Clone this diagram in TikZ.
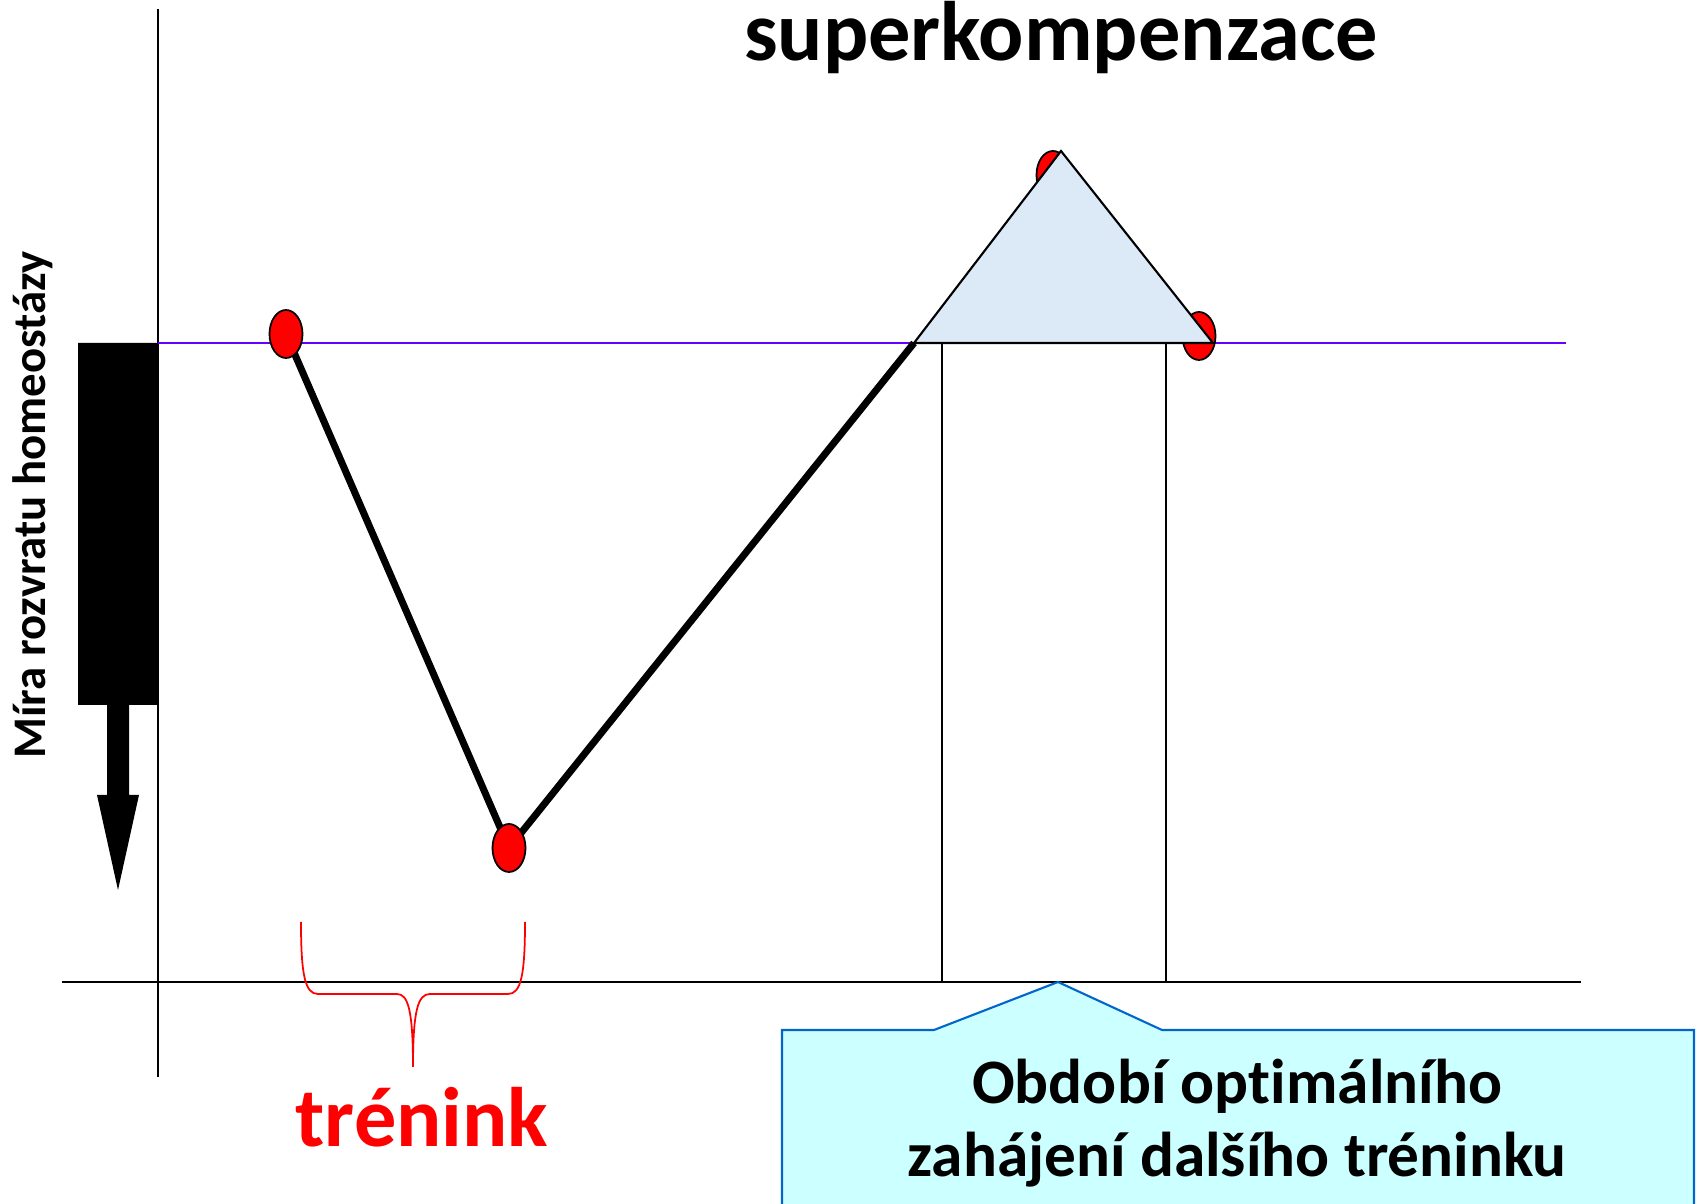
\documentclass[tikz,border=0pt]{standalone}
\usepackage{fontspec}
\setmainfont{Carlito}[Ligatures=NoCommon]
\usepackage{tikz}
\usetikzlibrary{arrows.meta, positioning, calc, shapes.geometric}

\definecolor{baseviolet}{RGB}{102,0,255}
\definecolor{peakfill}{RGB}{220,233,246}
\definecolor{calloutfill}{RGB}{204,255,255}
\definecolor{calloutline}{RGB}{0,102,204}

\begin{document}
\begin{tikzpicture}[
  x=0.01cm, y=-0.01cm,
  dot/.style={ellipse, draw, fill=red, minimum width=0.33cm, minimum height=0.48cm, inner sep=0pt, line width=0.5pt},
  axis/.style={line width=0.6pt},
  load/.style={line width=2pt},
  bigtext/.style={font=\fontsize{24}{29}\selectfont\bfseries, anchor=base},
  every node/.style={font=\bfseries}
]
  \useasboundingbox (0,0) rectangle (1696,1204);

  % axes
  \coordinate (ytop) at (158,9);
  \coordinate (ybot) at (158,1077);
  \coordinate (xl) at (62,982);
  \coordinate (xr) at (1581,982);
  \draw[axis] (ytop) -- (ybot);
  \draw[axis] (xl) -- (xr);

  % homeostasis level
  \coordinate (bl) at (158,343);
  \coordinate (br) at (1566,343);
  \draw[baseviolet, line width=0.5pt] (bl) -- (br);

  % disturbance bar with arrow
  \fill (78,343) -- (158,343) -- (158,705) -- (129,705) -- (129,795) -- (139,795)
    -- (118,890) -- (97,795) -- (107,795) -- (107,705) -- (78,705) -- cycle;
  \node[rotate=90, anchor=base, font=\fontsize{13.3}{16}\selectfont\bfseries] (ylab) at (45,505) {Míra rozvratu homeostázy};

  % curve
  \coordinate (p0) at (286,334);
  \coordinate (p1) at (509,848);
  \coordinate (tl) at (914,343);
  \coordinate (tp) at (1061,151);
  \coordinate (tr) at (1213,343);
  \draw[load] (p0) -- (p1) -- (tl);
  \node[dot] (d0) at (p0) {};
  \node[dot] (d1) at (p1) {};
  \node[dot] (d2) at (1053,175) {};
  \node[dot] (d3) at (1199,336) {};
  \filldraw[fill=peakfill, line width=0.6pt] (tl) -- (tp) -- (tr) -- cycle;

  % optimal period
  \coordinate (ma) at (942,343);
  \coordinate (mb) at (1166,343);
  \draw[axis] (ma) -- (ma |- xl);
  \draw[axis] (mb) -- (mb |- xl);

  \node[bigtext] (title) at (1061,61) {superkompenzace};

  % brace
  \draw[red, line width=0.5pt] (301,922) .. controls (301,975) and (305,994) .. (318,994) -- (397,994)
    .. controls (408,994) and (413,1010) .. (413,1067)
    .. controls (413,1010) and (418,994) .. (430,994) -- (508,994)
    .. controls (521,994) and (525,975) .. (525,922);
  \node[bigtext, text=red] (trenink) at (422,1147) {trénink};

  % callout
  \coordinate (ct) at (1058,982);
  \filldraw[fill=calloutfill, draw=calloutline, line width=0.6pt] (782,1240) -- (782,1030) -- (934,1030)
    -- (ct) -- (1162,1030) -- (1694,1030) -- (1694,1240);
  \node[align=center, anchor=base, font=\fontsize{18}{21}\selectfont\bfseries] (period) at (1237,1177)
    {Období optimálního\\zahájení dalšího tréninku};
\end{tikzpicture}
\end{document}
